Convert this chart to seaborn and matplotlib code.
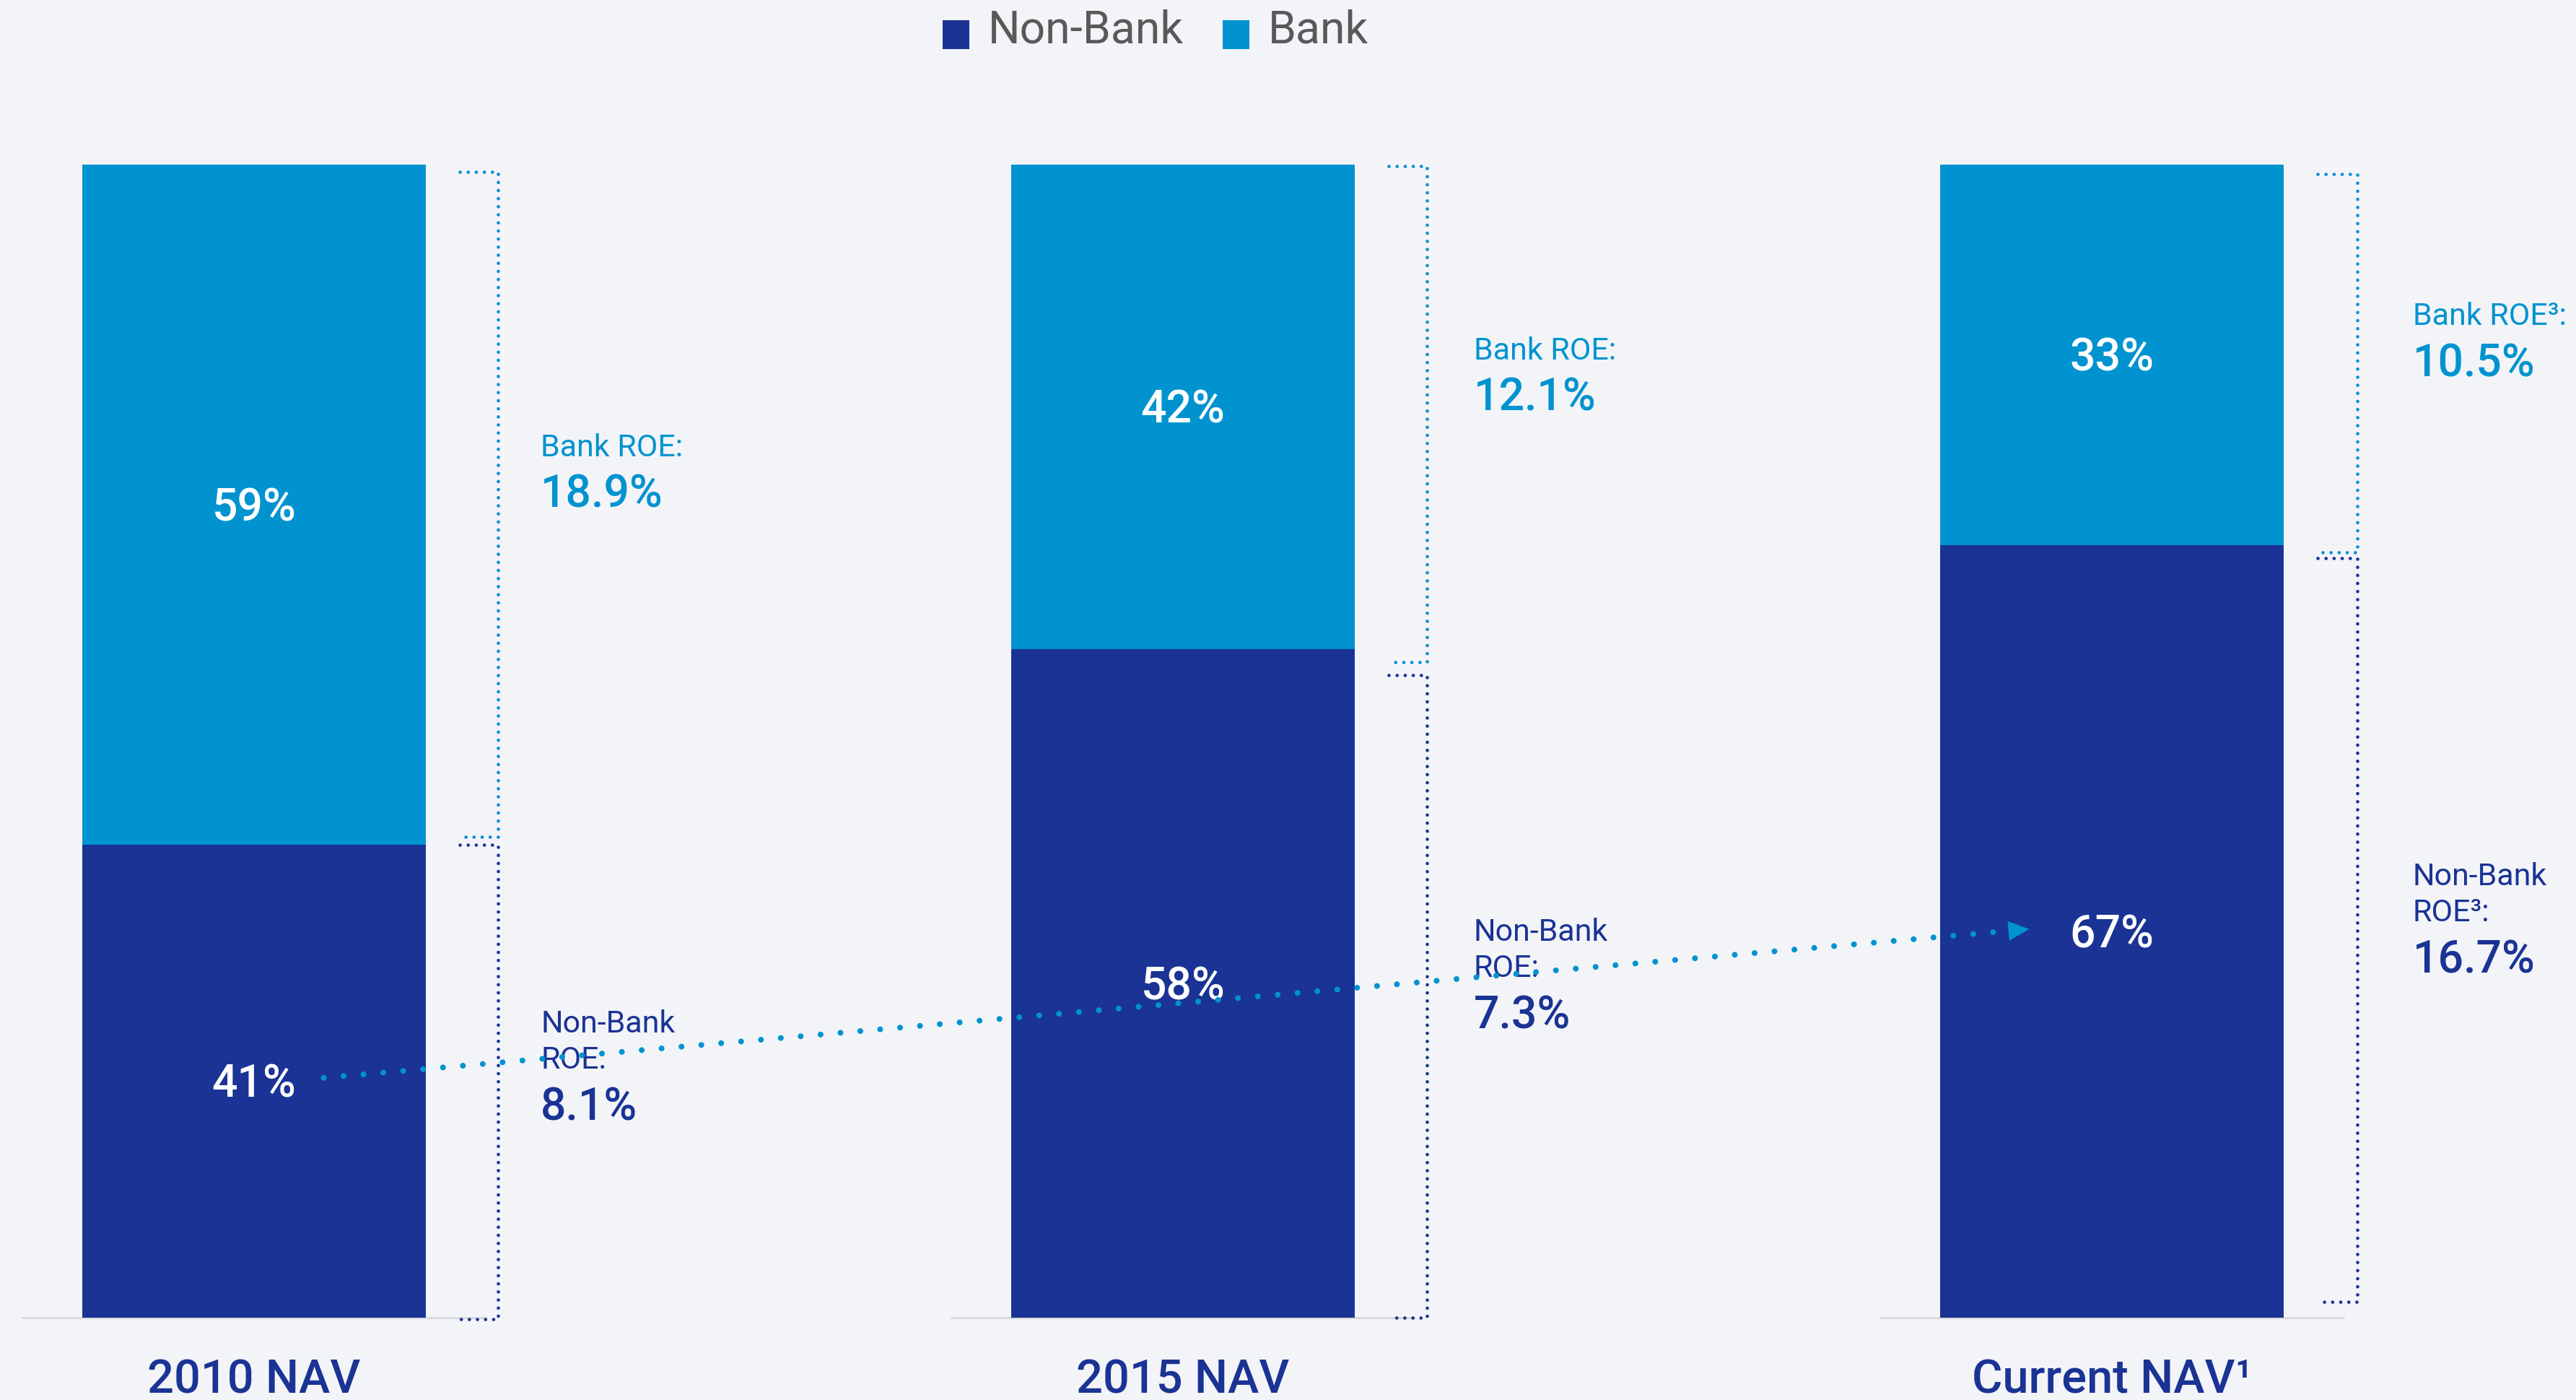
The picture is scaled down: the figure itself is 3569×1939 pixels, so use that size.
import matplotlib
matplotlib.use('Agg')
import matplotlib.pyplot as plt
import seaborn as sns
import pandas as pd
from matplotlib.patches import Patch, Rectangle
from matplotlib.legend_handler import HandlerPatch

# ---------------- data ----------------
categories = ['2010 NAV', '2015 NAV', 'Current NAV¹']
non_bank_share = [41, 58, 67]
bank_share = [59, 42, 33]
bank_roe_labels = ['Bank ROE:', 'Bank ROE:', 'Bank ROE³:']
bank_roe_values = ['18.9%', '12.1%', '10.5%']
non_bank_roe_labels = [['Non-Bank', 'ROE:'], ['Non-Bank', 'ROE:'], ['Non-Bank', 'ROE³:']]
non_bank_roe_values = ['8.1%', '7.3%', '16.7%']
legend_labels = ['Non-Bank', 'Bank']

# ---------------- style ----------------
NAVY = '#1a3394'
BLUE = '#0093d0'
BG = '#f3f4f8'
GRAY_TXT = '#595959'
BASE = '#d9d9d9'

sns.set_style('white', {'axes.facecolor': BG, 'figure.facecolor': BG})
plt.rcParams['font.family'] = ['Roboto', 'DejaVu Sans']

W, H, DPI = 3569, 1939, 100
fig = plt.figure(figsize=(W / DPI, H / DPI), dpi=DPI, facecolor=BG)
ax = fig.add_axes([0, (H - 1825) / H, 1, (1825 - 228) / H])
ax.set_facecolor(BG)

df = pd.DataFrame({
    'cat': categories,
    'total': [b + n for b, n in zip(bank_share, non_bank_share)],
    'nonbank': non_bank_share,
})
BW = 0.37
sns.barplot(data=df, x='cat', y='total', color=BLUE, width=BW, saturation=1,
            linewidth=0, ax=ax, zorder=2)
sns.barplot(data=df, x='cat', y='nonbank', color=NAVY, width=BW, saturation=1,
            linewidth=0, ax=ax, zorder=3)

ax.set_xlim(-352 / 1287, (W - 352) / 1287)
ax.set_ylim(0, 100)
sns.despine(ax=ax, left=True, bottom=True)
ax.set_yticks([])
ax.set_xlabel('')
ax.set_ylabel('')
ax.tick_params(axis='x', labelsize=46.8, labelcolor=NAVY, length=0, pad=40)
for lbl in ax.get_xticklabels():
    lbl.set_fontweight('medium')

# baselines
for i in range(len(categories)):
    ax.plot([i - 0.25, i + 0.25], [0, 0], color=BASE, lw=2.2, zorder=1,
            clip_on=False, solid_capstyle='butt')

# in-bar labels
for i, (nb, b) in enumerate(zip(non_bank_share, bank_share)):
    ax.text(i, nb / 2 - 1.4, f'{nb}%', ha='center', va='baseline', color='white',
            fontsize=45, fontweight='medium', zorder=5)
    ax.text(i, nb + b / 2 - 1.4, f'{b}%', ha='center', va='baseline', color='white',
            fontsize=45, fontweight='medium', zorder=5)

# brackets (layout offsets in axis units)
bank_top_off = [-0.63, -0.1, -0.8]
bank_bot_off = [0.7, -1.15, -0.63]
nb_top_off = [0.0, -2.27, -1.13]
nb_bot_off = [-0.1, 0.0, 1.38]
dot_style = dict(lw=3.4, linestyle=(0, (0.001, 2.37)), dash_capstyle='round',
                 zorder=4, clip_on=False)
for i, nb in enumerate(non_bank_share):
    xr = i + BW / 2
    xa, xb = xr + 0.0365, xr + 0.0775 + (0.002 if i == 2 else 0)
    top, bot = 100 + bank_top_off[i], nb + bank_bot_off[i]
    ax.plot([xa, xb, xb, xa], [top, top, bot, bot], color=BLUE, **dot_style)
    top, bot = nb + nb_top_off[i], 0 + nb_bot_off[i]
    ax.plot([xa, xb, xb, xa], [top, top, bot, bot], color=NAVY, **dot_style)

# annotations
text_dx = [0.3085, 0.313, 0.324]
bank_off = [-0.24, -0.35, -1.85]
nonbank_off = [-3.4, -3.95, -3.6]
for i, (nb, b) in enumerate(zip(non_bank_share, bank_share)):
    xt = i + text_dx[i]
    yv = nb + b / 2 + bank_off[i]
    ax.text(xt, yv, bank_roe_values[i], color=BLUE, fontsize=45,
            fontweight='medium', va='baseline', ha='left')
    ax.text(xt, yv + 4.45, bank_roe_labels[i], color=BLUE, fontsize=31,
            va='baseline', ha='left')
    yv = nb / 2 + nonbank_off[i]
    ax.text(xt, yv, non_bank_roe_values[i], color=NAVY, fontsize=45,
            fontweight='medium', va='baseline', ha='left')
    ax.text(xt, yv + 4.5, non_bank_roe_labels[i][1], color=NAVY, fontsize=31,
            va='baseline', ha='left')
    ax.text(xt, yv + 4.5 + 3.13, non_bank_roe_labels[i][0], color=NAVY, fontsize=31,
            va='baseline', ha='left')

# dotted arrow from first to last non-bank share
x0, y0 = 0 + 0.075, non_bank_share[0] / 2 + 0.3
x_tip, y_tip = 2 - 0.089, non_bank_share[2] / 2 + 0.2
x_end = 2 - 0.111
y_end = y0 + (x_end - x0) / (x_tip - x0) * (y_tip - y0)
ax.plot([x0, x_end], [y0, y_end], color=BLUE, lw=5.8,
        linestyle=(0, (0.001, 3.43)), dash_capstyle='round', zorder=6)
ax.annotate('', xy=(x_tip, y_tip), xytext=(x0, y0),
            arrowprops=dict(arrowstyle='-|>,head_length=1.04,head_width=0.49',
                            color=BLUE, lw=0, mutation_scale=20,
                            shrinkA=0, shrinkB=0),
            zorder=6)


# legend with squares sitting slightly low, as in the reference
def low_square(legend, orig_handle, xdescent, ydescent, width, height, fontsize):
    return Rectangle((-xdescent, -ydescent - 0.18 * fontsize), width, height)


handles = [Patch(facecolor=NAVY, edgecolor='none'), Patch(facecolor=BLUE, edgecolor='none')]
fig.legend(handles=handles, labels=legend_labels, ncol=2, loc='upper center',
           bbox_to_anchor=(1601 / W, 1 - 12 / H), frameon=False, fontsize=45,
           handlelength=0.6, handleheight=0.6, handletextpad=0.42,
           columnspacing=0.85, labelcolor=GRAY_TXT, borderpad=0, borderaxespad=0,
           handler_map={Patch: HandlerPatch(patch_func=low_square)})

fig.savefig('out.png', dpi=DPI, facecolor=BG)
